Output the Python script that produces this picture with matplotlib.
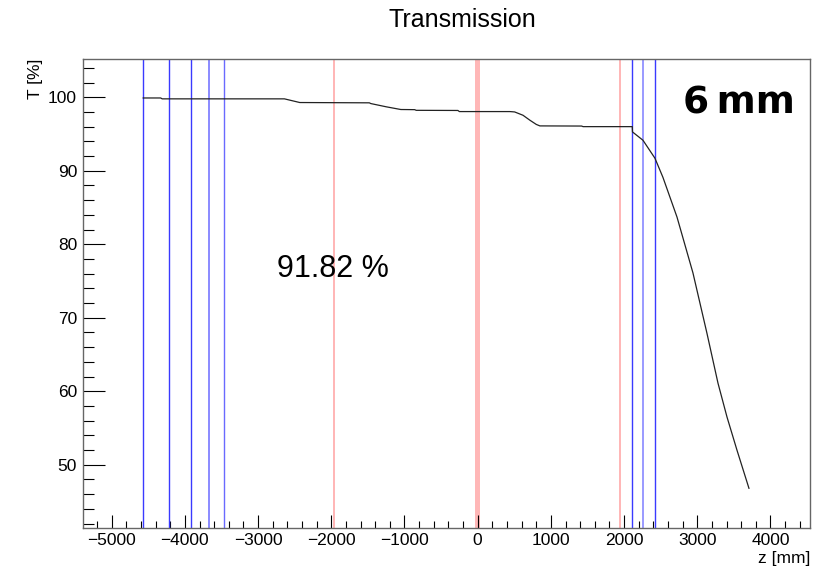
import numpy as np
import matplotlib.pyplot as plt
from matplotlib.ticker import MultipleLocator

# transmission curve
z_mm = [-4569, -4330, -4310, -2640, -2430, -1480, -1460, -1250, -1050, -860, -840,
        -270, -250, 440, 505, 619, 714, 801, 850, 1420, 1440, 2112,
        2115, 2258, 2422, 2531, 2723, 2941, 3132, 3283, 3406, 3542, 3706]
trans = [99.90, 99.90, 99.78, 99.78, 99.28, 99.24, 99.14, 98.7, 98.33, 98.31, 98.22,
         98.20, 98.05, 98.05, 98.0, 97.55, 96.87, 96.3, 96.1, 96.08, 96.0, 96.0,
         95.28, 94.15, 91.7, 89.1, 83.7, 76.1, 67.9, 61.1, 56.5, 52.0, 46.8]

# element positions (blue lines) and red bands
blue_z = [-4569, -4213, -3913, -3667, -3466, 2112, 2258, 2418]
blue_col = ["#3a3aff", "#3a3aff", "#3a3aff", "#8a8aff", "#6a6aff", "#3a3aff", "#9a9aff", "#3a3aff"]
red_bands = [(-1975, -1948), (-37, 37), (1930, 1962)]

total_label = "91.82 %"
size_label = "6\u2009mm"

plt.rcParams['font.family'] = ['Liberation Sans', 'DejaVu Sans']

fig = plt.figure(figsize=(8.21, 5.68), dpi=100)
ax = fig.add_axes([0.1007, 0.0710, 0.8859, 0.8251])

for lo, hi in red_bands:
    ax.axvspan(lo, hi, color="#ffb0b0", lw=0, alpha=0.9, zorder=1)
for z, c in zip(blue_z, blue_col):
    lw = 1.4 if c in ("#8a8aff", "#9a9aff") else 1.0
    ax.axvline(z, color=c, lw=lw, zorder=2)

ax.plot(z_mm, trans, color="#222222", lw=0.9, zorder=3)

ax.set_xlim(-5396, 4540)
ax.set_ylim(41.44, 105.2)

ax.xaxis.set_major_locator(MultipleLocator(1000))
ax.xaxis.set_minor_locator(MultipleLocator(200))
ax.yaxis.set_major_locator(MultipleLocator(10))
ax.yaxis.set_minor_locator(MultipleLocator(2))
ax.tick_params(axis='x', which='major', direction='in', length=9.7, width=0.8, labelsize=12.5, pad=4)
ax.tick_params(axis='x', which='minor', direction='in', length=5, width=0.8)
ax.tick_params(axis='y', which='major', direction='in', length=15.8, width=0.8, labelsize=12.5, pad=4)
ax.tick_params(axis='y', which='minor', direction='in', length=7.9, width=0.8)
for s in ax.spines.values():
    s.set_color("#666666")
    s.set_linewidth(1.0)

ax.set_xlabel("z [mm]", fontsize=12.5, loc='right', labelpad=2)
ax.set_ylabel("T [%]", fontsize=12.5, loc='top', labelpad=4)
fig.text(0.5627, 1 - 20 / 568, "Transmission", fontsize=18, ha='center', va='center')

ax.text(276.7, 568 - 277.3, total_label, transform=None, fontsize=22, ha='left', va='baseline')
ax.text(683, 568 - 113.3, size_label, transform=None, fontsize=27, fontweight='bold',
        family='DejaVu Sans', ha='left', va='baseline')

fig.savefig("out.png", dpi=100)
